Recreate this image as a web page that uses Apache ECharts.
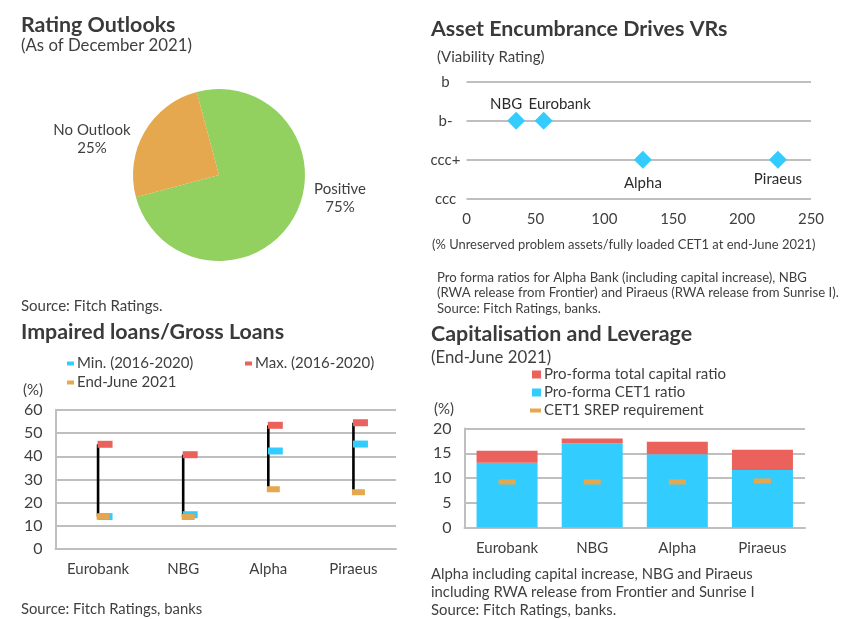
<!DOCTYPE html>
<html>
<head>
<meta charset="utf-8">
<style>
html, body { margin: 0; padding: 0; background: #fff; }
#chart { width: 850px; height: 619px; }
</style>
<script src="https://cdn.jsdelivr.net/npm/echarts@6/dist/echarts.min.js"></script>
</head>
<body>
<div id="chart"></div>
<script>
// rating outlook pie
const outlookNames = ["Positive", "No Outlook"];
const outlookValues = [75, 25];

// asset encumbrance scatter
const ratingLevels = ["ccc", "ccc+", "b-", "b"];
const vrBanks = ["NBG", "Eurobank", "Alpha", "Piraeus"];
const vrProblemAssets = [36, 56, 128, 226];
const vrRatings = ["b-", "b-", "ccc+", "ccc+"];

// impaired loans
const banks = ["Eurobank", "NBG", "Alpha", "Piraeus"];
const impairedMin = [14, 14.8, 42.3, 45.3];
const impairedMax = [45.2, 40.7, 53.4, 54.5];
const impairedJune = [14, 13.8, 25.8, 24.5];

// capitalisation
const cet1Ratio = [13.1, 17, 14.8, 11.6];
const totalCapitalRatio = [15.5, 18, 17.3, 15.7];
const srepRequirement = [9.2, 9.2, 9.2, 9.4];

const FONT = "Lato";
const TEXT = "#3f3f3f";
const GRID = "#bfbfbf";
const RED = "#eb615c";
const BLUE = "#33ccff";
const ORANGE = "#e5a84f";
const GREEN = "#92d05f";

function text(str, left, top, size, extra) {
	return {
		text: str, left: left, top: top, padding: 0,
		textStyle: Object.assign({ fontFamily: FONT, fontSize: size, fontWeight: "normal", color: TEXT }, extra || {})
	};
}
function heading(str, left, top) {
	return text(str, left, top, 21.4, { fontWeight: "bold", color: "#3a3a3a" });
}
function legendItem(name, left, top, w, h, icon) {
	return {
		left: left, top: top, padding: 0, itemWidth: w, itemHeight: h, itemGap: 0,
		icon: icon, selectedMode: false, data: [name],
		textStyle: { fontFamily: FONT, fontSize: 15, color: TEXT, padding: [0, 0, 0, -2] }
	};
}
function axisLine() {
	return { show: true, lineStyle: { color: GRID, width: 2 } };
}
function splitLine() {
	return { show: true, lineStyle: { color: GRID, width: 2 } };
}
const labelStyle = { fontFamily: FONT, fontSize: 15, color: TEXT };

// where the bank names sit around their diamonds
const vrLabelSpots = {
	NBG: { position: "top", offset: [-10, 5] },
	Eurobank: { position: "top", offset: [16, 5] },
	Alpha: { position: "bottom", offset: [0, 2] },
	Piraeus: { position: "bottom", offset: [0, -2] }
};
const pieLabelSpots = { Positive: { x: 340, y: 198 }, "No Outlook": { x: 92, y: 139 } };

const chart = echarts.init(document.getElementById("chart"));
chart.setOption({
	animation: false,
	backgroundColor: "#fff",
	title: [
		heading("Rating Outlooks", 21, 15),
		text("(As of December 2021)", 21, 37, 16.8),
		text("Source: Fitch Ratings.", 21, 299, 15),
		heading("Asset Encumbrance Drives VRs", 431, 19),
		text("(Viability Rating)", 437, 50, 15),
		text("(% Unreserved problem assets/fully loaded CET1 at end-June 2021)", 432, 238, 12.95),
		text("Pro forma ratios for Alpha Bank (including capital increase), NBG\n(RWA release from Frontier) and Piraeus (RWA release from Sunrise I).\nSource: Fitch Ratings, banks.", 437, 270, 13.15, { lineHeight: 15.5 }),
		heading("Impaired loans/Gross Loans", 21, 322),
		text("(%)", 23, 383, 15),
		text("Source: Fitch Ratings, banks", 21, 602, 14.8),
		heading("Capitalisation and Leverage", 431, 324),
		text("(End-June 2021)", 431, 349, 16.8),
		text("(%)", 434, 402, 15),
		text("Alpha including capital increase, NBG and Piraeus\nincluding RWA release from Frontier and Sunrise I\nSource: Fitch Ratings, banks.", 431, 565, 14.85, { lineHeight: 18 })
	],
	legend: [
		legendItem("Min. (2016-2020)", 67, 356, 7, 4, "rect"),
		legendItem("Max. (2016-2020)", 245, 356, 7, 4, "rect"),
		legendItem("End-June 2021", 67, 375, 7, 4, "rect"),
		legendItem("Pro-forma total capital ratio", 532, 367, 9, 8, "rect"),
		legendItem("Pro-forma CET1 ratio", 532, 385, 9, 8, "rect"),
		legendItem("CET1 SREP requirement", 530, 403, 11, 4, "rect")
	],
	grid: [
		{ left: 466.5, top: 81.7, width: 344.5, height: 117 },
		{ left: 55.5, top: 410, width: 340.5, height: 139 },
		{ left: 464.5, top: 428.5, width: 340.5, height: 99 }
	],
	xAxis: [
		{
			gridIndex: 0, type: "value", min: 0, max: 250, interval: 50,
			axisLine: { show: false }, axisTick: { show: false }, splitLine: { show: false },
			axisLabel: Object.assign({ margin: 13, hideOverlap: false }, labelStyle)
		},
		{
			gridIndex: 1, type: "category", data: banks,
			axisLine: axisLine(), axisTick: { show: false },
			axisLabel: Object.assign({ margin: 13 }, labelStyle)
		},
		{
			gridIndex: 2, type: "category", data: banks,
			axisLine: axisLine(), axisTick: { show: false },
			axisLabel: Object.assign({ margin: 13 }, labelStyle)
		}
	],
	yAxis: [
		{
			gridIndex: 0, type: "category", data: ratingLevels, boundaryGap: false,
			axisLine: { show: false }, axisTick: { show: false },
			splitLine: splitLine(),
			axisLabel: Object.assign({ margin: 21, align: "center" }, labelStyle)
		},
		{
			gridIndex: 1, type: "value", min: 0, max: 60, interval: 10,
			axisLine: axisLine(), axisTick: { show: false }, splitLine: splitLine(),
			axisLabel: Object.assign({ margin: 13 }, labelStyle, { fontSize: 16 })
		},
		{
			gridIndex: 2, type: "value", min: 0, max: 20, interval: 5,
			axisLine: axisLine(), axisTick: { show: false }, splitLine: splitLine(),
			axisLabel: Object.assign({ margin: 13 }, labelStyle, { fontSize: 16 })
		}
	],
	series: [
		{
			type: "pie",
			center: [219, 175],
			radius: [0, 86],
			startAngle: 105,
			clockwise: true,
			silent: true,
			data: outlookNames.map((name, i) => ({ name: name, value: outlookValues[i] })),
			color: [GREEN, ORANGE],
			label: {
				fontFamily: FONT, fontSize: 15, color: TEXT, lineHeight: 18, align: "center",
				formatter: (p) => p.name + "\n" + p.value + "%"
			},
			labelLine: { show: false },
			labelLayout: (p) => {
				const spot = pieLabelSpots[outlookNames[p.dataIndex]];
				return { x: spot.x, y: spot.y, align: "center", verticalAlign: "middle" };
			}
		},
		{
			type: "scatter",
			xAxisIndex: 0, yAxisIndex: 0,
			symbol: "diamond", symbolSize: 18,
			itemStyle: { color: BLUE, opacity: 1 },
			data: vrBanks.map((name, i) => ({
				name: name,
				value: [vrProblemAssets[i], vrRatings[i]],
				label: Object.assign({
					show: true, formatter: name, fontFamily: FONT, fontSize: 15, color: "#2b2b2b"
				}, vrLabelSpots[name])
			}))
		},
		{
			// black range bar from the max down to the latest figure
			type: "custom",
			xAxisIndex: 1, yAxisIndex: 1,
			silent: true, z: 1,
			data: banks.map((b, i) => [i, impairedMax[i], impairedJune[i]]),
			renderItem: (params, api) => {
				const top = api.coord([api.value(0), api.value(1)]);
				const bottom = api.coord([api.value(0), api.value(2)]);
				return {
					type: "line",
					shape: { x1: top[0], y1: top[1], x2: bottom[0], y2: bottom[1] },
					style: { stroke: "#000", lineWidth: 2.6 }
				};
			}
		},
		{
			name: "Min. (2016-2020)", type: "scatter", xAxisIndex: 1, yAxisIndex: 1, z: 3,
			symbol: "rect", symbolSize: [15, 7], symbolOffset: [7, 0],
			itemStyle: { color: BLUE, opacity: 1 }, data: impairedMin
		},
		{
			name: "Max. (2016-2020)", type: "scatter", xAxisIndex: 1, yAxisIndex: 1, z: 3,
			symbol: "rect", symbolSize: [15, 7], symbolOffset: [7, 0],
			itemStyle: { color: RED, opacity: 1 }, data: impairedMax
		},
		{
			name: "End-June 2021", type: "scatter", xAxisIndex: 1, yAxisIndex: 1, z: 4,
			symbol: "rect", symbolSize: [13, 6], symbolOffset: [5, 0],
			itemStyle: { color: ORANGE, opacity: 1 }, data: impairedJune
		},
		{
			name: "Pro-forma CET1 ratio", type: "bar", xAxisIndex: 2, yAxisIndex: 2, stack: "capital",
			barWidth: 61, itemStyle: { color: BLUE }, data: cet1Ratio
		},
		{
			name: "Pro-forma total capital ratio", type: "bar", xAxisIndex: 2, yAxisIndex: 2, stack: "capital",
			barWidth: 61, itemStyle: { color: RED },
			data: totalCapitalRatio.map((v, i) => +(v - cet1Ratio[i]).toFixed(1))
		},
		{
			name: "CET1 SREP requirement", type: "scatter", xAxisIndex: 2, yAxisIndex: 2, z: 5,
			symbol: "rect", symbolSize: [17, 5],
			itemStyle: { color: ORANGE, opacity: 1 }, data: srepRequirement
		}
	]
});
</script>
</body>
</html>
